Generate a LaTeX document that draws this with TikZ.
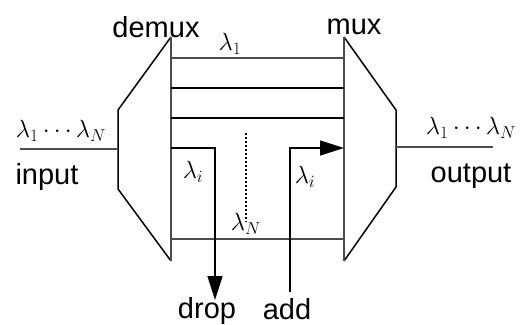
\documentclass[tikz,border=0pt]{standalone}
\usepackage{fontspec}
\setmainfont{Liberation Sans}
\usetikzlibrary{arrows.meta}
\begin{document}
\begin{tikzpicture}[x=1pt,y=-1pt,
  txt/.style={inner sep=0pt,font=\fontsize{29}{32}\selectfont},
  lam/.style={inner sep=0pt,font=\fontsize{27}{30}\selectfont},
  fiber/.style={line width=1.5pt,black},
  gfiber/.style={line width=2.2pt,black!70},
  arr/.style={fiber,-{Triangle[length=24pt,width=15pt]}}]
\useasboundingbox (0,0) rectangle (522,324);
% demux
\coordinate (dt) at (171,37);
\coordinate (db) at (171,261);
\draw[fiber] (dt) -- (118,110) -- (118,189) -- (db);
\draw[gfiber] (dt) -- (db);
% mux
\coordinate (mt) at (344,37);
\coordinate (mb) at (344,261);
\draw[fiber] (mt) -- (396,110) -- (396,187) -- (mb);
\draw[gfiber] (mt) -- (mb);
% channels
\coordinate (a1) at (171,58);  \coordinate (b1) at (344,58);
\coordinate (a2) at (171,88);  \coordinate (b2) at (344,88);
\coordinate (a3) at (171,118); \coordinate (b3) at (344,118);
\coordinate (aN) at (171,239); \coordinate (bN) at (344,239);
\draw[gfiber] (a1) -- (b1);
\draw[fiber] (a2) -- (b2);
\draw[fiber] (a3) -- (b3);
\draw[gfiber] (aN) -- (bN);
% drop / add
\coordinate (ai) at (171,148);
\coordinate (bi) at (344,148);
\coordinate (dropend) at (215,300);
\coordinate (addstart) at (290,292);
\draw[arr] (ai) -| (dropend);
\draw[arr] (addstart) |- (bi);
% dotted
\coordinate (dot1) at (246,133);
\coordinate (dot2) at (246,222);
\draw[line width=1.6pt,dash pattern=on 1.6pt off 2.4pt] (dot1) -- (dot2);
% input / output
\coordinate (in) at (20,149);
\coordinate (inend) at (118,149);
\coordinate (out) at (396,147);
\coordinate (outend) at (493,147);
\draw[gfiber] (in) -- (inend);
\draw[gfiber] (out) -- (outend);
% labels
\node[txt] (demux) at (156,27) {demux};
\node[txt] (mux) at (354,27) {mux};
\node[lam] (l1) at (230,44) {$\lambda_1$};
\node[lam] (lin) at (61,131) {$\lambda_1\cdots\lambda_N$};
\node[txt] (input) at (47,177) {input};
\node[lam] (lout) at (471,128) {$\lambda_1\cdots\lambda_N$};
\node[txt] (output) at (471,176) {output};
\node[lam] (li1) at (193,172) {$\lambda_i$};
\node[lam] (li2) at (305,177) {$\lambda_i$};
\node[lam] (lN) at (246,224) {$\lambda_N$};
\node[txt] (drop) at (207,311) {drop};
\node[txt] (add) at (287,309) {add};
\end{tikzpicture}
\end{document}
